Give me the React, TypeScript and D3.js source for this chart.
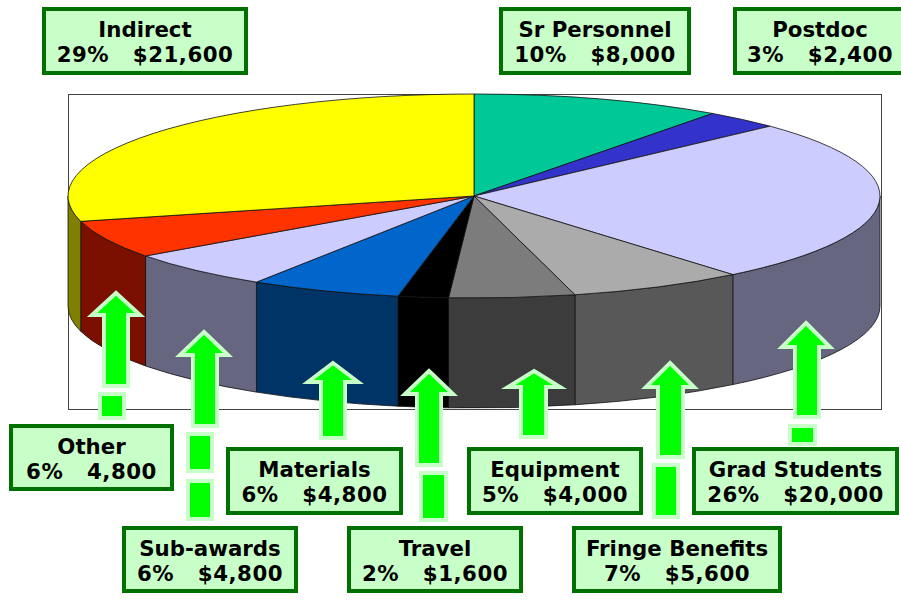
import React from "react";
import * as d3 from "d3";

const categories = ["Sr Personnel", "Postdoc", "Grad Students", "Fringe Benefits", "Equipment", "Travel", "Materials", "Sub-awards", "Other", "Indirect"];
const percents = [10, 3, 26, 7, 5, 2, 6, 6, 6, 29];
const amounts = ["$8,000", "$2,400", "$20,000", "$5,600", "$4,000", "$1,600", "$4,800", "$4,800", "4,800", "$21,600"];
const topColors = ["#00C896", "#3333CC", "#CCCCFF", "#ABABAB", "#7C7C7C", "#000000", "#0066CC", "#CCCCFF", "#FF3300", "#FFFF00"];
const sideColors = ["#006448", "#191966", "#666680", "#585858", "#3C3C3C", "#000000", "#003366", "#666680", "#7C1000", "#808000"];

// label box: x0, x1, y0, y1
const boxes: number[][] = [
  [501, 689, 9, 73], [735, 905, 9, 73], [694, 897, 449, 513], [574, 780, 528, 591], [469, 641, 449, 513],
  [349, 521, 528, 591], [228, 401, 449, 513], [124, 296, 528, 591], [11, 172, 426, 489], [44, 246, 9, 73],
];
// arrow: tipX, tipY, baseY, headHalf, shaftX0, shaftX1, bottomY
const arrows: (number[] | null)[] = [
  null, null,
  [806, 323, 347, 24, 795, 819, 417], [670, 363, 387, 24, 658, 683, 457], [534, 371, 387, 26, 521, 546, 437],
  [429, 371, 394, 24, 417, 441, 465], [333, 363, 382, 25, 321, 345, 438], [204, 332, 355, 24, 193, 217, 426], [116, 293, 315, 24, 104, 128, 386], null,
];
// stubs below an arrow: x0, x1, y0, y1
const stubs: number[][] = [
  [790, 815, 426, 444], [654, 678, 465, 517], [421, 446, 473, 520], [188, 212, 434, 471], [188, 212, 481, 519], [100, 124, 394, 418],
];

const W = 901, H = 613;
const cx = 474, cy = 196, rx = 406, ry = 102, depth = 110;
const pt = (a: number, dy = 0): [number, number] => [cx + rx * Math.sin(a), cy - ry * Math.cos(a) + dy];

export default function App() {
  const pie = d3.pie<number>().sort(null).startAngle(0).endAngle(2 * Math.PI);
  const arcs = pie(percents);
  const arc = d3.arc<d3.PieArcDatum<number>>().innerRadius(0).outerRadius(rx);
  const lo = Math.PI / 2, hi = 1.5 * Math.PI;
  const font = "'DejaVu Sans', Verdana, sans-serif";
  return (
    <svg width={W} height={H} viewBox={`0 0 ${W} ${H}`} style={{ position: "absolute", left: 0, top: 0, background: "#fff" }}>
      <rect x={68.5} y={94.5} width={813} height={315} fill="#fff" stroke="#444" strokeWidth={1} />
      {arcs.map((d, i) => {
        const a0 = Math.max(d.startAngle, lo), a1 = Math.min(d.endAngle, hi);
        if (a1 <= a0) return null;
        const [x0, y0] = pt(a0), [x1, y1] = pt(a1), [x2, y2] = pt(a1, depth), [x3, y3] = pt(a0, depth);
        return (
          <path key={i} d={`M${x0},${y0}A${rx},${ry} 0 0 1 ${x1},${y1}L${x2},${y2}A${rx},${ry} 0 0 0 ${x3},${y3}Z`}
            fill={sideColors[i]} stroke="#111" strokeWidth={0.8} />
        );
      })}
      <g transform={`translate(${cx},${cy}) scale(1,${ry / rx})`}>
        {arcs.map((d, i) => (
          <path key={i} d={arc(d) as string} fill={topColors[i]} stroke="#111" strokeWidth={0.8} vectorEffect="non-scaling-stroke" />
        ))}
      </g>
      {arrows.map((a, i) => {
        if (!a) return null;
        const [tx, ty, by, hh, s0, s1, b] = a;
        const p = d3.path();
        p.moveTo(tx, ty); p.lineTo(tx + hh, by); p.lineTo(s1, by); p.lineTo(s1, b); p.lineTo(s0, b); p.lineTo(s0, by); p.lineTo(tx - hh, by); p.closePath();
        return <path key={i} d={p.toString()} fill="#00FF00" stroke="#C8FFC8" strokeWidth={4} />;
      })}
      {stubs.map(([x0, x1, y0, y1], i) => (
        <rect key={i} x={x0} y={y0} width={x1 - x0} height={y1 - y0} fill="#00FF00" stroke="#C8FFC8" strokeWidth={4} />
      ))}
      {boxes.map(([x0, x1, y0, y1], i) => {
        const mid = (x0 + x1) / 2;
        const off = y0 > 400 ? -0.5 : 0;
        return (
          <g key={i}>
            <rect x={x0} y={y0} width={x1 - x0} height={y1 - y0} fill="#C8FFC8" stroke="#007000" strokeWidth={4} />
            <text x={mid} y={y0 + 28 + off} textAnchor="middle" fontFamily={font} fontWeight="bold" fontSize={21.3} fill="#000">{categories[i]}</text>
            <text x={mid} y={y0 + 53 + off} textAnchor="middle" fontFamily={font} fontWeight="bold" fontSize={21.3} letterSpacing={0.5} fill="#000" xmlSpace="preserve">{`${percents[i]}%   ${amounts[i]}`}</text>
          </g>
        );
      })}
    </svg>
  );
}
